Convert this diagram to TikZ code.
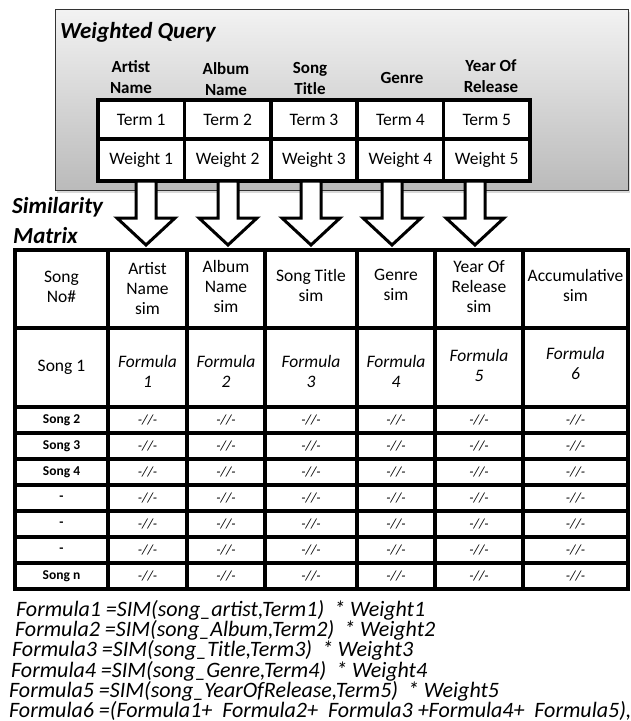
\documentclass[tikz,border=0pt]{standalone}
\usepackage{fontspec}
\setmainfont{Carlito}
\usetikzlibrary{shadows}

\begin{document}
\begin{tikzpicture}[x=1pt,y=-1pt,line join=miter]
  \tikzstyle{cell}=[draw,line width=3.5pt,inner sep=0pt,outer sep=0pt,
                    anchor=north west,align=center,fill=white]
  \tikzstyle{qhead}=[font=\fontsize{17}{21}\selectfont\bfseries,align=center]
  \tikzstyle{boxtitle}=[font=\fontsize{23}{28}\selectfont\bfseries\itshape,
                        anchor=base west,inner sep=0pt]
  \tikzstyle{txt}=[font=\fontsize{17.5}{20}\selectfont]
  \tikzstyle{formtxt}=[font=\fontsize{17.5}{20}\selectfont\itshape]
  \tikzstyle{songtxt}=[font=\fontsize{13.5}{14}\selectfont\bfseries]
  \tikzstyle{ditto}=[font=\fontsize{14}{14}\selectfont\itshape]
  \tikzstyle{formula}=[font=\fontsize{22}{20}\selectfont\itshape,
                       anchor=base west,inner sep=0pt]
  \tikzstyle{downarrow}=[draw,line width=3pt,fill=white]

  \useasboundingbox (0,0) rectangle (631,721);

  % weighted query
  \node[draw=black!80,line width=0.8pt,top color=black!5,bottom color=black!27,
        drop shadow={shadow xshift=2pt,shadow yshift=-3pt,opacity=.3},
        minimum width=573pt,minimum height=181pt,anchor=north west,
        inner sep=0pt] (query) at (55,9) {};
  \node[boxtitle] (qtitle) at (60,38) {Weighted Query};

  \node[qhead] (hartist) at (131,77) {Artist\\Name};
  \node[qhead] (halbum)  at (226,79) {Album\\Name};
  \node[qhead] (htitle)  at (310,78) {Song\\Title};
  \node[qhead] (hgenre)  at (402,78) {Genre};
  \node[qhead] (hyear)   at (491,76) {Year Of\\Release};

  \foreach \i in {1,...,5} {
    \node[cell,txt,minimum width=86.4pt,minimum height=39pt]
      (term\i) at ({98+(\i-1)*86.4},100) {Term \i};
    \node[cell,txt,minimum width=86.4pt,minimum height=42pt]
      (weight\i) at ({98+(\i-1)*86.4},139) {Weight \i};
  }

  % arrows down to the matrix
  \foreach \i/\xc in {1/146,2/228,3/311,4/392,5/475}
    \draw[downarrow] (\xc-10,181) -- (\xc-10,218) -- (\xc-29,218)
      -- (\xc,245) -- (\xc+29,218) -- (\xc+10,218) -- (\xc+10,181) -- cycle;

  \node[boxtitle] (stitle) at (12,213) {Similarity};
  \node[boxtitle] (mtitle) at (13,243) {Matrix};

  % similarity matrix
  \path[fill=white,drop shadow={shadow xshift=1pt,shadow yshift=-2pt,opacity=.3}]
    (15,250) rectangle (628,589);

  \foreach \c/\x/\w/\dy/\head in {
      1/15/93/2/{Song\\No\#},
      2/108/79/0/{Artist\\Name\\sim},
      3/187/78/3/{Album\\Name\\sim},
      4/265/92/4/{Song Title\\sim},
      5/357/78/4/{Genre\\sim},
      6/435/88/2/{Year Of\\Release\\sim},
      7/523/105/4/{Accumulative\\sim}} {
    \node[cell,txt,minimum width=\w pt,minimum height=78pt]
      (m-0-\c) at (\x,250) {};
    \node[txt,align=center,yshift=\dy pt] at (m-0-\c.center) {\head};
    \node[cell,minimum width=\w pt,minimum height=79pt]
      (m-1-\c) at (\x,328) {};
  }
  \node[txt] at (m-1-1.center) {Song 1};
  \foreach \c in {2,...,7}
    \node[formtxt,align=center,yshift={\c>5 ? 2*(\c-5) : -4}] at (m-1-\c.center)
      {Formula\\\the\numexpr\c-1\relax};

  \foreach \lab [count=\k] in {Song 2,Song 3,Song 4,-,-,-,Song n} {
    \node[cell,songtxt,minimum width=93pt,minimum height=26pt]
      (m-\k-1x) at (15,{407+(\k-1)*26}) {\lab};
    \foreach \c/\x/\w in {2/108/79,3/187/78,4/265/92,5/357/78,6/435/88,7/523/105}
      \node[cell,ditto,minimum width=\w pt,minimum height=26pt]
        (m-\k-\c x) at (\x,{407+(\k-1)*26}) {-//-};
  }

  % formulas
  \node[formula] (f1) at (16,616) {Formula1 =SIM(song\_artist,Term1)\ \ * Weight1};
  \node[formula] (f2) at (15,636) {Formula2 =SIM(song\_Album,Term2)\ \ * Weight2};
  \node[formula] (f3) at (12,656) {Formula3 =SIM(song\_Title,Term3)\ \ * Weight3};
  \node[formula] (f4) at (11,677) {Formula4 =SIM(song\_Genre,Term4)\ \ * Weight4};
  \node[formula] (f5) at (9,697)  {Formula5 =SIM(song\_YearOfRelease,Term5)\ \ * Weight5};
  \node[formula] (f6) at (9,717)  {Formula6 =(Formula1+ \ Formula2+ \ Formula3 +Formula4+ \ Formula5),};
\end{tikzpicture}
\end{document}
